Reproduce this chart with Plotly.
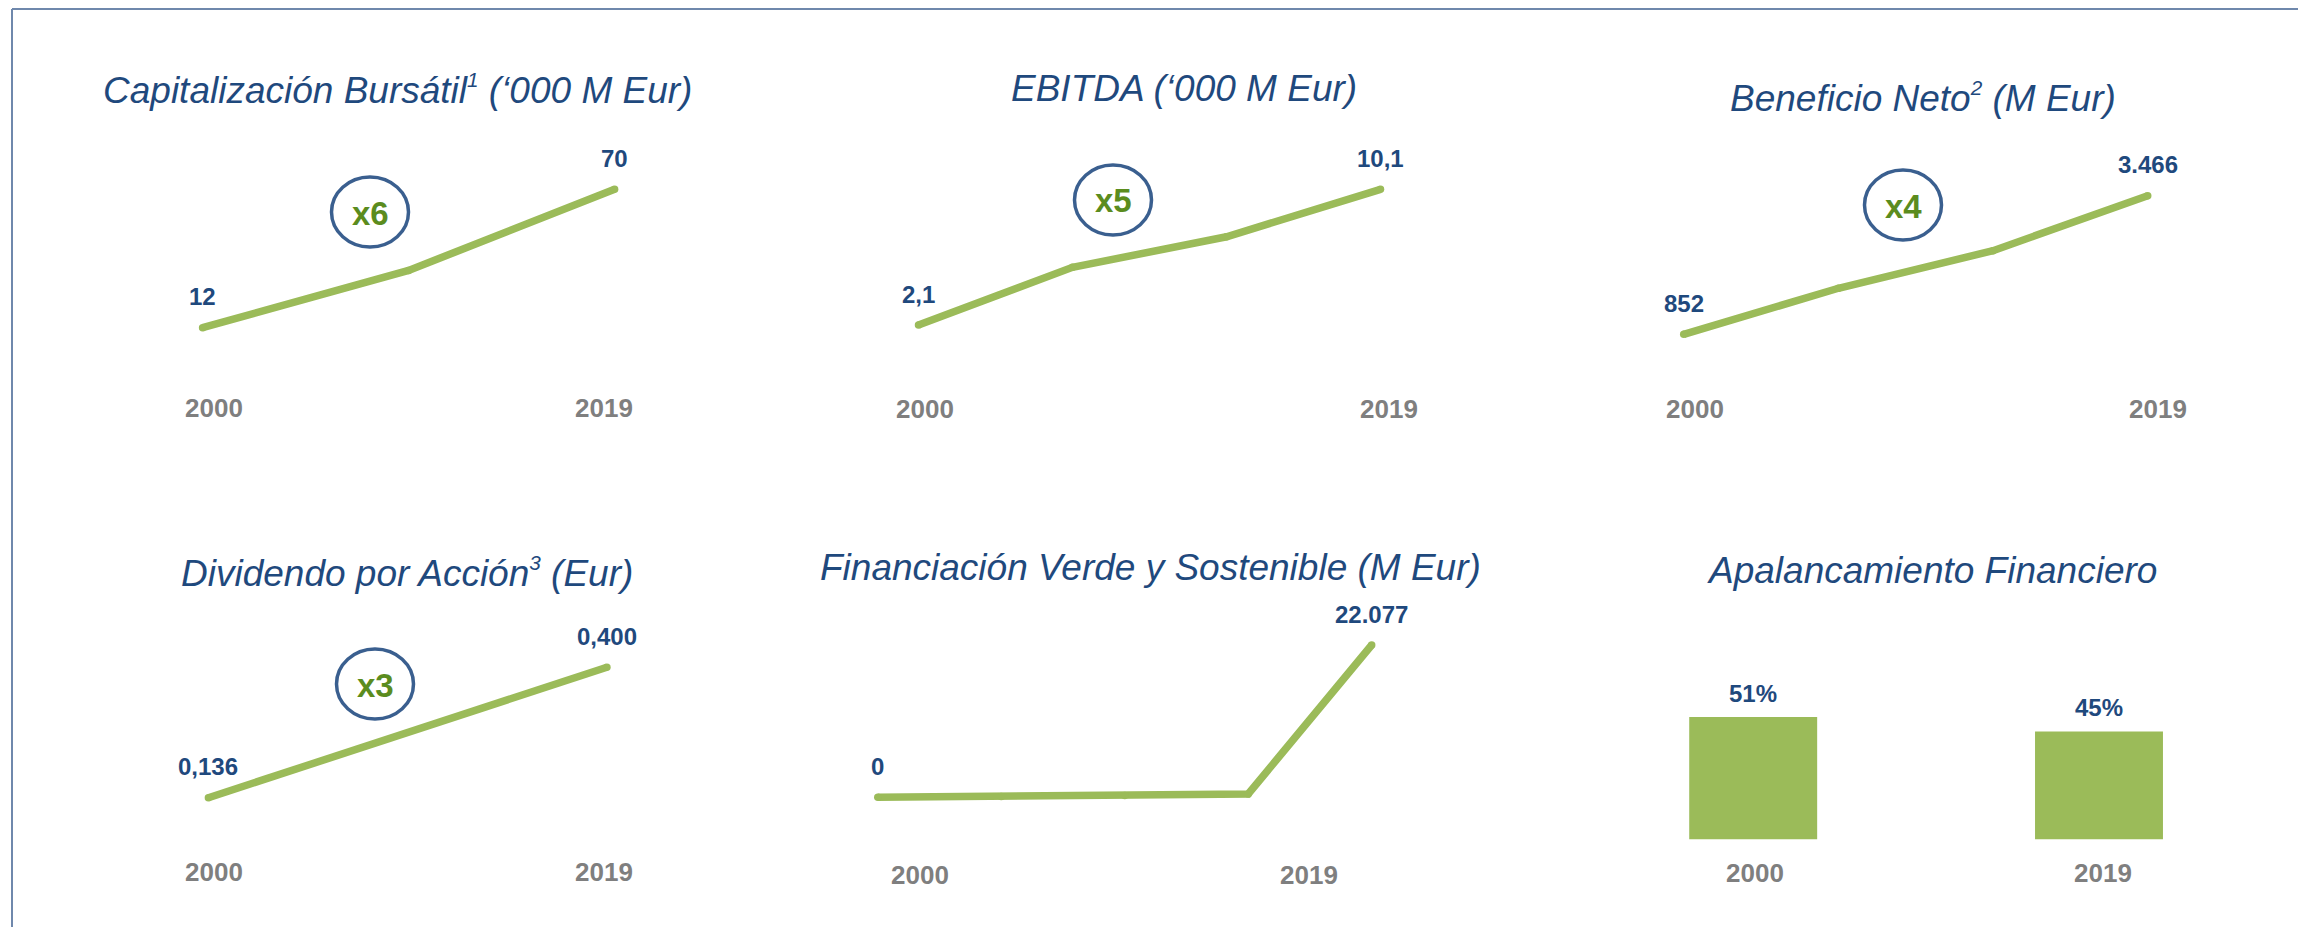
import plotly.graph_objects as go

W, H = 2298, 927

# ---------------- data ----------------
years = ["2000", "2019"]

SUP = "<sup><span style='font-size:80%'>{}</span></sup>"
titles = [
    "Capitalización Bursátil" + SUP.format("1") + " (‘000 M Eur)",
    "EBITDA (‘000 M Eur)",
    "Beneficio Neto" + SUP.format("2") + " (M Eur)",
    "Dividendo por Acción" + SUP.format("3") + " (Eur)",
    "Financiación Verde y Sostenible (M Eur)",
    "Apalancamiento Financiero",
]

cap_values = [12, 36, 70]
cap_labels = ["12", "70"]

ebitda_values = [2.1, 5.5, 7.3, 10.1]
ebitda_labels = ["2,1", "10,1"]

beneficio_values = [852, 1720, 2429, 3466]
beneficio_labels = ["852", "3.466"]

dividendo_values = [0.136, 0.400]
dividendo_labels = ["0,136", "0,400"]

verde_values = [0, 100, 250, 480, 22077]
verde_labels = ["0", "22.077"]

apalanc_values = [51, 45]
apalanc_labels = ["51%", "45%"]

multipliers = ["x6", "x5", "x4", "x3"]

# ---------------- style ----------------
GREEN = "#9BBB59"
DARK_GREEN = "#5B8C1E"
BLUE = "#1F497D"
RING = "#3A5F8F"
GRAY = "#7F7F7F"
BORDER = "#6F88AC"
FONT = "Arial, Liberation Sans, Helvetica, sans-serif"
LW = 7.5

fig = go.Figure()
layout = dict(
    width=W, height=H,
    margin=dict(l=0, r=0, t=0, b=0),
    paper_bgcolor="white", plot_bgcolor="rgba(0,0,0,0)",
    showlegend=False,
    annotations=[], shapes=[],
)


def hide_axis(d):
    d.update(showgrid=False, zeroline=False, showticklabels=False,
             showline=False, ticks="", fixedrange=True)
    return d


# line panels: (values, labels, x-pixel first, x-pixel last, y-pixel first, y-pixel last,
#               year y pixel, year xshifts)
line_panels = [
    (cap_values, cap_labels, 202.6, 614.6, 327.7, 189.3, 408, (11, -11)),
    (ebitda_values, ebitda_labels, 918.5, 1380.5, 325.0, 189.3, 409, (6, 8)),
    (beneficio_values, beneficio_labels, 1683.7, 2147.7, 334.3, 195.7, 409, (11, 10)),
    (dividendo_values, dividendo_labels, 208.4, 606.9, 797.7, 667.3, 872, (6, -3)),
    (verde_values, verde_labels, 877.8, 1371.7, 797.3, 645.0, 875, (42, -63)),
]

for i, (vals, labs, x0, x1, ya, yb, yy, shifts) in enumerate(line_panels, start=1):
    n = len(vals)
    dx = (x1 - x0) / (n - 1)
    pad = 0.3
    xdom = [(x0 - pad * dx) / W, (x1 + pad * dx) / W]
    s = (ya - yb) / (vals[-1] - vals[0])  # pixels per unit
    top_px, bot_px = yb - 70, ya + 40
    yrange = [vals[0] - 40 / s, vals[-1] + 70 / s]
    ydom = [1 - bot_px / H, 1 - top_px / H]
    xa = "x" if i == 1 else f"x{i}"
    ya_ = "y" if i == 1 else f"y{i}"
    xkey = "xaxis" if i == 1 else f"xaxis{i}"
    ykey = "yaxis" if i == 1 else f"yaxis{i}"
    layout[xkey] = hide_axis(dict(domain=xdom, range=[-pad, n - 1 + pad], anchor=ya_))
    layout[ykey] = hide_axis(dict(domain=ydom, range=yrange, anchor=xa))
    xs = list(range(n))
    fig.add_trace(go.Scatter(
        x=xs, y=vals, xaxis=xa, yaxis=ya_, mode="lines+markers",
        line=dict(color=GREEN, width=LW),
        marker=dict(color=GREEN, size=LW, line=dict(width=0)),
        hoverinfo="skip",
    ))
    # value labels at first and last points
    for xi, lab in zip([0, n - 1], labs):
        layout["annotations"].append(dict(
            x=xi, y=vals[xi], xref=xa, yref=ya_, text=f"<b>{lab}</b>",
            showarrow=False, yshift=31, xanchor="center", yanchor="middle",
            font=dict(family=FONT, size=24, color=BLUE),
        ))
    # year labels
    for xi, yr, sh in zip([0, n - 1], years, shifts):
        layout["annotations"].append(dict(
            x=xi, y=1 - yy / H, xref=xa, yref="paper", text=f"<b>{yr}</b>",
            showarrow=False, xshift=sh, xanchor="center", yanchor="middle",
            font=dict(family=FONT, size=26, color=GRAY),
        ))

# bar panel (6)
bc0, bc1 = 1753.2, 2099.0
unit = bc1 - bc0
xdom6 = [(bc0 - 0.5 * unit) / W, (bc1 + 0.5 * unit) / W]
y0px, y51px = 839.5, 717.0
s6 = (y0px - y51px) / apalanc_values[0]
top6 = 600
layout["xaxis6"] = hide_axis(dict(domain=xdom6, range=[-0.5, 1.5], anchor="y6"))
layout["yaxis6"] = hide_axis(dict(domain=[1 - y0px / H, 1 - top6 / H],
                                  range=[0, (y0px - top6) / s6], anchor="x6"))
fig.add_trace(go.Bar(
    x=[0, 1], y=apalanc_values, xaxis="x6", yaxis="y6", width=0.37,
    marker=dict(color=GREEN, line=dict(width=0)),
    hoverinfo="skip",
))
for xi, (v, lab) in enumerate(zip(apalanc_values, apalanc_labels)):
    layout["annotations"].append(dict(
        x=xi, y=v, xref="x6", yref="y6", text=f"<b>{lab}</b>",
        showarrow=False, yshift=24, xanchor="center", yanchor="middle",
        font=dict(family=FONT, size=24, color=BLUE),
    ))
for xi, yr, sh in zip([0, 1], years, (1.5, 4)):
    layout["annotations"].append(dict(
        x=xi, y=1 - 873 / H, xref="x6", yref="paper", text=f"<b>{yr}</b>",
        showarrow=False, xshift=sh, xanchor="center", yanchor="middle",
        font=dict(family=FONT, size=26, color=GRAY),
    ))

# titles
title_pos = [(397, 90), (1184, 88), (1923, 97), (407, 572), (1150, 567), (1932, 570)]
for t, (cx, cy) in zip(titles, title_pos):
    layout["annotations"].append(dict(
        x=cx / W, y=1 - cy / H, xref="paper", yref="paper", text=t,
        showarrow=False, xanchor="center", yanchor="middle",
        font=dict(family=FONT, size=37, color=BLUE, style="italic"),
    ))

# multiplier rings
ring_pos = [(370, 212), (1113, 200), (1903, 205), (375, 684)]
rw, rh = 77, 70
for m, (cx, cy) in zip(multipliers, ring_pos):
    layout["shapes"].append(dict(
        type="circle", xref="paper", yref="paper",
        x0=(cx - rw / 2) / W, x1=(cx + rw / 2) / W,
        y0=1 - (cy + rh / 2) / H, y1=1 - (cy - rh / 2) / H,
        line=dict(color=RING, width=3.5), fillcolor="rgba(0,0,0,0)",
    ))
    layout["annotations"].append(dict(
        x=cx / W, y=1 - (cy + 1) / H, xref="paper", yref="paper", text=f"<b>{m}</b>",
        showarrow=False, xanchor="center", yanchor="middle",
        font=dict(family=FONT, size=33, color=DARK_GREEN),
    ))

# frame lines (top and left)
layout["shapes"].append(dict(type="line", xref="paper", yref="paper",
                             x0=12 / W, x1=1, y0=1 - 9 / H, y1=1 - 9 / H,
                             line=dict(color=BORDER, width=2)))
layout["shapes"].append(dict(type="line", xref="paper", yref="paper",
                             x0=12 / W, x1=12 / W, y0=0, y1=1 - 9 / H,
                             line=dict(color=BORDER, width=2)))

fig.update_layout(**layout)
fig.write_html(
    "out.html",
    config={"displayModeBar": False},
    post_script="document.body.style.margin='0';document.body.style.overflow='hidden';",
)
